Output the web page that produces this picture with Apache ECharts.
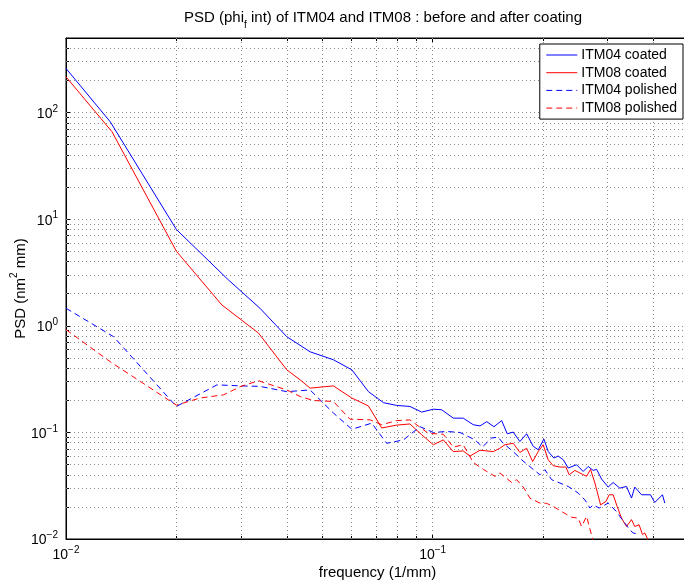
<!DOCTYPE html>
<html>
<head>
<meta charset="utf-8">
<script src="https://cdn.jsdelivr.net/npm/echarts@6/dist/echarts.min.js"></script>
<style>html,body{margin:0;padding:0;background:#fff}#c{width:684px;height:585px}</style>
</head>
<body>
<div id="c"></div>
<script>
// ---- data (frequency in 1/mm, PSD in nm^2 mm) ----
const itm04CoatedF = [0.01,0.0132,0.02,0.0277,0.0338,0.04,0.0463,0.0536,0.0602,0.0668,0.0734,0.0798,0.0867,0.0933,0.1004,0.1058,0.1138,0.1211,0.129,0.1346,0.1404,0.1469,0.1542,0.1597,0.1658,0.1729,0.1804,0.188,0.194,0.201,0.2065,0.214,0.2199,0.227,0.2342,0.2468,0.2573,0.2655,0.274,0.2799,0.2888,0.301,0.3105,0.3238,0.3377,0.3485,0.3557,0.3711,0.3926,0.4033,0.4233,0.4295];
const itm04CoatedP = [259,82,8.0,2.7,1.46,0.79,0.57,0.48,0.386,0.241,0.19,0.179,0.175,0.155,0.165,0.163,0.136,0.136,0.118,0.115,0.126,0.113,0.129,0.097,0.1006,0.082,0.097,0.074,0.0687,0.0865,0.0663,0.0574,0.060,0.0554,0.0463,0.0497,0.043,0.0479,0.044,0.045,0.0365,0.0307,0.0339,0.030,0.0311,0.0242,0.0307,0.026,0.026,0.022,0.026,0.0217];

const itm08CoatedF = [0.01,0.01335,0.02,0.0266,0.0335,0.04,0.0435,0.0463,0.0536,0.0602,0.0668,0.0726,0.0798,0.0867,0.0933,0.1004,0.1069,0.1138,0.1211,0.1264,0.1346,0.1463,0.1525,0.1574,0.1658,0.1729,0.1804,0.1873,0.194,0.2001,0.2065,0.2131,0.2223,0.2308,0.2356,0.2442,0.252,0.2628,0.2695,0.2769,0.287,0.2967,0.3029,0.3105,0.3184,0.3273,0.3377,0.3485,0.3557,0.3655,0.3734,0.3788,0.3867];
const itm08CoatedP = [216,66,5.0,1.57,0.853,0.386,0.311,0.26,0.273,0.21,0.177,0.11,0.117,0.12,0.095,0.0766,0.085,0.066,0.067,0.060,0.068,0.066,0.071,0.0766,0.079,0.0649,0.071,0.0533,0.066,0.0766,0.0554,0.0487,0.0473,0.0473,0.040,0.044,0.0416,0.0387,0.045,0.0335,0.0209,0.0225,0.026,0.026,0.0202,0.0157,0.0131,0.0152,0.0131,0.0136,0.011,0.0114,0.0098];

const itm04PolishedF = [0.01,0.01348,0.02,0.0258,0.03,0.0338,0.04,0.0463,0.0536,0.0602,0.0682,0.0749,0.0832,0.0924,0.1004,0.1092,0.1187,0.1304,0.1367,0.1448,0.1509,0.1557,0.1658,0.1748,0.1861,0.1961,0.2023,0.211,0.2223,0.2342,0.2493,0.26,0.2683,0.274,0.2844,0.301,0.3172,0.3238,0.3342,0.3448,0.352,0.3596];
const itm04PolishedP = [1.46,0.79,0.175,0.279,0.273,0.27,0.241,0.25,0.152,0.107,0.122,0.079,0.085,0.113,0.0998,0.102,0.0998,0.085,0.073,0.0886,0.09,0.079,0.066,0.0554,0.0463,0.040,0.0447,0.036,0.0335,0.0311,0.027,0.0233,0.0195,0.0209,0.0195,0.0217,0.0181,0.0163,0.0141,0.0122,0.0114,0.0112];

const itm08PolishedF = [0.01,0.0132,0.02,0.0232,0.0269,0.03,0.0335,0.04,0.0435,0.0473,0.0536,0.0595,0.0675,0.0726,0.0798,0.0867,0.0973,0.1069,0.1138,0.1211,0.129,0.1374,0.1479,0.1525,0.1642,0.1694,0.1766,0.1841,0.1961,0.2045,0.2131,0.2247,0.2392,0.2493,0.2547,0.2628,0.274];
const itm08PolishedP = [0.92,0.46,0.18,0.21,0.225,0.27,0.305,0.25,0.217,0.199,0.195,0.133,0.131,0.118,0.129,0.131,0.098,0.096,0.0727,0.0766,0.0522,0.045,0.0387,0.0416,0.0339,0.036,0.0307,0.0242,0.0217,0.0216,0.0202,0.0181,0.016,0.0157,0.0131,0.0163,0.0095];

const seriesNames = ['ITM04 coated','ITM08 coated','ITM04 polished','ITM08 polished'];
const seriesColors = ['#0000ff','#ff0000','#0000ff','#ff0000'];
const seriesDash = ['solid','solid',[6,4],[6,4]];
const xGridValues = [0.02,0.03,0.04,0.05,0.06,0.07,0.08,0.09,0.1,0.2,0.3,0.4];
const yGridValues = [0.02,0.03,0.04,0.05,0.06,0.07,0.08,0.09,0.1,0.2,0.3,0.4,0.5,0.6,0.7,0.8,0.9,1,2,3,4,5,6,7,8,9,10,20,30,40,50,60,70,80,90,100,200,300,400];
const xMin = 0.01, xMax = 0.5, yMin = 0.01, yMax = 500;

const isPow10 = v => Math.abs(Math.log10(v) - Math.round(Math.log10(v))) < 1e-9;
const xMinorTicks = xGridValues.filter(v => !isPow10(v));
const yMinorTicks = yGridValues.filter(v => !isPow10(v));

const zip = (a, b) => a.map((v, i) => [v, b[i]]);
const FONT = '"Liberation Sans", Arial, Helvetica, sans-serif';

function powLabel(v) {
  if (!isPow10(v)) return '';
  const e = Math.round(Math.log10(v));
  return '{b|10}{e|' + (e < 0 ? '\u2212' + (-e) : e) + '}';
}
const powRich = {
  b: { fontSize: 14, fontFamily: FONT, color: '#000', lineHeight: 17, verticalAlign: 'bottom' },
  e: { fontSize: 10, fontFamily: FONT, color: '#000', lineHeight: 10, verticalAlign: 'top' }
};

const gridLineStyle = { type: [1, 3], color: '#8a8a8a', width: 1 };
const blackLine = { color: '#000', width: 1 };

function minorAxis(base, values) {
  return Object.assign({
    type: 'log', logBase: 10,
    axisLine: { show: false, onZero: false },
    axisLabel: { show: false },
    splitLine: { show: false },
    axisTick: { show: true, inside: true, length: 3, lineStyle: blackLine, customValues: values }
  }, base);
}

const chart = echarts.init(document.getElementById('c'), null, { renderer: 'canvas' });
chart.setOption({
  animation: false,
  backgroundColor: '#fff',
  textStyle: { fontFamily: FONT },
  title: {
    text: '{t|PSD (phi}{s|f}{t| int) of ITM04 and ITM08 : before and after coating}',
    left: 179,
    top: 5,
    textStyle: {
      fontWeight: 'normal',
      rich: {
        t: { fontSize: 15, fontFamily: FONT, fontWeight: 'normal', color: '#000', lineHeight: 20, verticalAlign: 'top' },
        s: { fontSize: 10, fontFamily: FONT, fontWeight: 'normal', color: '#000', lineHeight: 10, verticalAlign: 'bottom' }
      }
    }
  },
  grid: { left: 66, right: -5, top: 38, bottom: 46, outerBoundsMode: 'none', containLabel: false, show: true, borderColor: '#000', borderWidth: 1, backgroundColor: 'transparent' },
  legend: {
    orient: 'vertical',
    right: 1,
    top: 44,
    data: seriesNames,
    backgroundColor: '#fff',
    borderColor: '#000',
    borderWidth: 1,
    borderRadius: 0,
    padding: [4, 6, 4, 6],
    itemWidth: 31,
    itemHeight: 14,
    itemGap: 3.7,
    itemStyle: { opacity: 0, borderWidth: 0 },
    lineStyle: { width: 1 },
    textStyle: { fontSize: 14, fontFamily: FONT, color: '#000', padding: [0, 0, 0, -1] },
    z: 10
  },
  xAxis: [{
    type: 'log', logBase: 10, min: xMin, max: xMax,
    name: 'frequency (1/mm)', nameLocation: 'middle', nameGap: 26, nameMoveOverlap: false,
    nameTextStyle: { fontSize: 15, fontFamily: FONT, color: '#000' },
    axisLine: { onZero: false, lineStyle: blackLine },
    axisTick: { inside: true, length: 5, lineStyle: blackLine },
    axisLabel: { formatter: powLabel, rich: powRich, margin: 6, color: '#000' },
    splitLine: { show: false }
  }, {
    type: 'log', logBase: 10, min: xMin, max: xMax, position: 'top',
    axisLine: { onZero: false, lineStyle: blackLine },
    axisTick: { inside: true, length: 5, lineStyle: blackLine },
    axisLabel: { show: false },
    splitLine: { show: false }
  },
  minorAxis({ min: xMin, max: xMax, position: 'bottom' }, xMinorTicks),
  minorAxis({ min: xMin, max: xMax, position: 'top' }, xMinorTicks)
  ],
  yAxis: [{
    type: 'log', logBase: 10, min: yMin, max: yMax,
    name: '{a|PSD (nm}{s|2}{a| mm)}', nameLocation: 'middle', nameGap: 38, nameMoveOverlap: false,
    nameTextStyle: {
      rich: {
        a: { fontSize: 15, fontFamily: FONT, color: '#000', lineHeight: 19, verticalAlign: 'bottom' },
        s: { fontSize: 10, fontFamily: FONT, color: '#000', lineHeight: 10, verticalAlign: 'top' }
      }
    },
    axisLine: { onZero: false, lineStyle: blackLine },
    axisTick: { inside: true, length: 5, lineStyle: blackLine },
    axisLabel: { formatter: powLabel, rich: powRich, margin: 8, color: '#000' },
    splitLine: { show: false }
  },
  minorAxis({ min: yMin, max: yMax, position: 'left' }, yMinorTicks)
  ],
  series: [
    {
      name: 'ITM04 coated', type: 'line', data: zip(itm04CoatedF, itm04CoatedP),
      symbol: 'none', showSymbol: false, clip: true, z: 4,
      lineStyle: { color: seriesColors[0], width: 1, type: seriesDash[0] }, itemStyle: { color: seriesColors[0] },
      markLine: {
        silent: true, symbol: ['none', 'none'], z: 1, animation: false,
        label: { show: false }, lineStyle: gridLineStyle,
        emphasis: { disabled: true },
        data: xGridValues.map(v => ({ xAxis: v })).concat(yGridValues.map(v => ({ yAxis: v })))
      }
    },
    {
      name: 'ITM08 coated', type: 'line', data: zip(itm08CoatedF, itm08CoatedP),
      symbol: 'none', showSymbol: false, clip: true, z: 4,
      lineStyle: { color: seriesColors[1], width: 1, type: seriesDash[1] }, itemStyle: { color: seriesColors[1] }
    },
    {
      name: 'ITM04 polished', type: 'line', data: zip(itm04PolishedF, itm04PolishedP),
      symbol: 'none', showSymbol: false, clip: true, z: 4,
      lineStyle: { color: seriesColors[2], width: 1, type: seriesDash[2] }, itemStyle: { color: seriesColors[2] }
    },
    {
      name: 'ITM08 polished', type: 'line', data: zip(itm08PolishedF, itm08PolishedP),
      symbol: 'none', showSymbol: false, clip: true, z: 4,
      lineStyle: { color: seriesColors[3], width: 1, type: seriesDash[3] }, itemStyle: { color: seriesColors[3] }
    }
  ]
});
</script>
</body>
</html>
